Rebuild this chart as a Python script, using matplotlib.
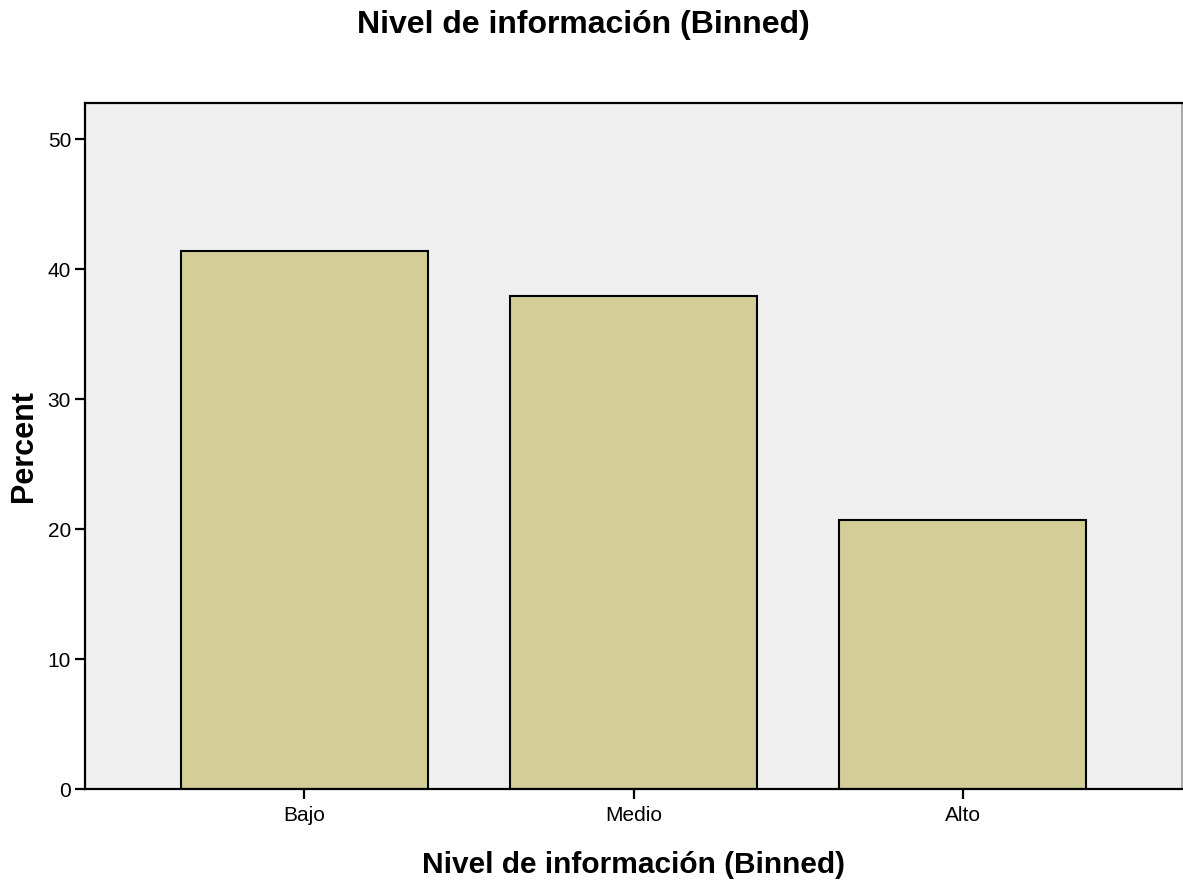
import matplotlib.pyplot as plt

plt.rcParams['font.family'] = ['Liberation Sans', 'DejaVu Sans']

categories = ["Bajo", "Medio", "Alto"]
percents = [41.4, 37.9, 20.7]
y_ticks = [0, 10, 20, 30, 40, 50]

fig = plt.figure(figsize=(11.83, 8.8), dpi=100)
ax = fig.add_axes([85 / 1183, 91 / 880, 1097 / 1183, 686 / 880])
ax.set_facecolor("#efefef")

x = range(len(categories))
ax.bar(x, percents, width=0.75, color="#d3ce98", edgecolor="black", linewidth=1.5, zorder=2)

ax.set_xlim(-0.665, 2.665)
ax.set_ylim(0, 52.77)
ax.set_xticks(list(x))
ax.set_xticklabels(categories)
ax.set_yticks(y_ticks)

ax.tick_params(axis="both", labelsize=15, length=7, width=1.6, color="black", pad=3)
ax.tick_params(axis="x", pad=5)

for side in ["left", "bottom", "top"]:
    ax.spines[side].set_linewidth(1.6)
    ax.spines[side].set_color("black")
ax.spines["right"].set_linewidth(1.2)
ax.spines["right"].set_color("#999999")

ax.set_xlabel("Nivel de información (Binned)", fontsize=21.5, fontweight="bold", labelpad=19)
ax.set_ylabel("Percent", fontsize=22, fontweight="bold", labelpad=6)

fig.text(583 / 1183, 1 - 25 / 880, "Nivel de información (Binned)", fontsize=23,
         fontweight="bold", ha="center", va="center")

fig.savefig("out.png", dpi=100)
